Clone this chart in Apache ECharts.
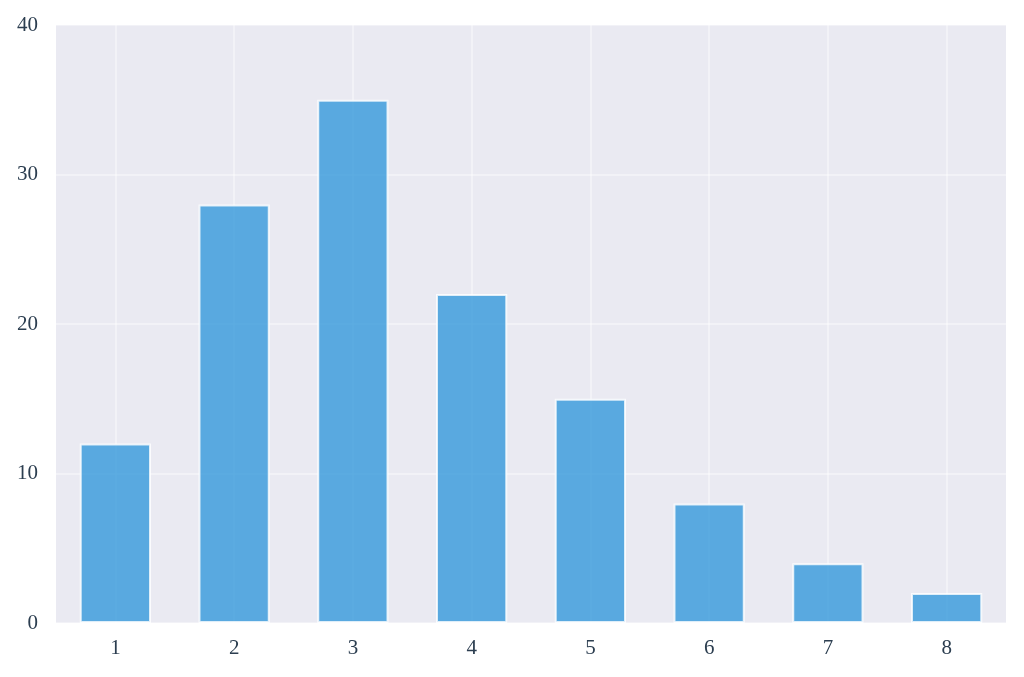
<!DOCTYPE html>
<html><head><meta charset="utf-8">
<script src="https://cdn.jsdelivr.net/npm/echarts@6/dist/echarts.min.js"></script>
<style>html,body{margin:0;padding:0;background:#fff}#c{width:1024px;height:677px}</style>
</head><body><div id="c"></div>
<script>
const categories = ['1','2','3','4','5','6','7','8'];
const values = [12, 28, 35, 22, 15, 8, 4, 2];
const yTicks = {min: 0, max: 40, interval: 10};

const font = {fontFamily: '"Liberation Serif", "DejaVu Serif", serif', fontSize: 21, color: '#2c3e50'};
const chart = echarts.init(document.getElementById('c'), null, {renderer: 'canvas'});
chart.setOption({
  animation: false,
  grid: {left: 56, right: 18, top: 25, bottom: 54, show: true, backgroundColor: '#eaeaf2', borderWidth: 0},
  xAxis: {
    type: 'category', data: categories,
    axisLine: {show: false}, axisTick: {show: false, alignWithLabel: true},
    axisLabel: Object.assign({margin: 15}, font),
    splitLine: {show: true, alignWithLabel: true, lineStyle: {color: 'rgba(255,255,255,0.5)', width: 1.5}}
  },
  yAxis: {
    type: 'value', min: yTicks.min, max: yTicks.max, interval: yTicks.interval,
    axisLine: {show: false}, axisTick: {show: false},
    axisLabel: Object.assign({margin: 18, padding: [4, 0, 0, 0]}, font),
    splitLine: {show: true, lineStyle: {color: 'rgba(255,255,255,0.5)', width: 1.5}}
  },
  series: [{
    type: 'bar', data: values, barWidth: '60%',
    itemStyle: {color: '#3498db', opacity: 0.8, borderColor: '#ffffff', borderWidth: 2}
  }]
});
</script></body></html>
